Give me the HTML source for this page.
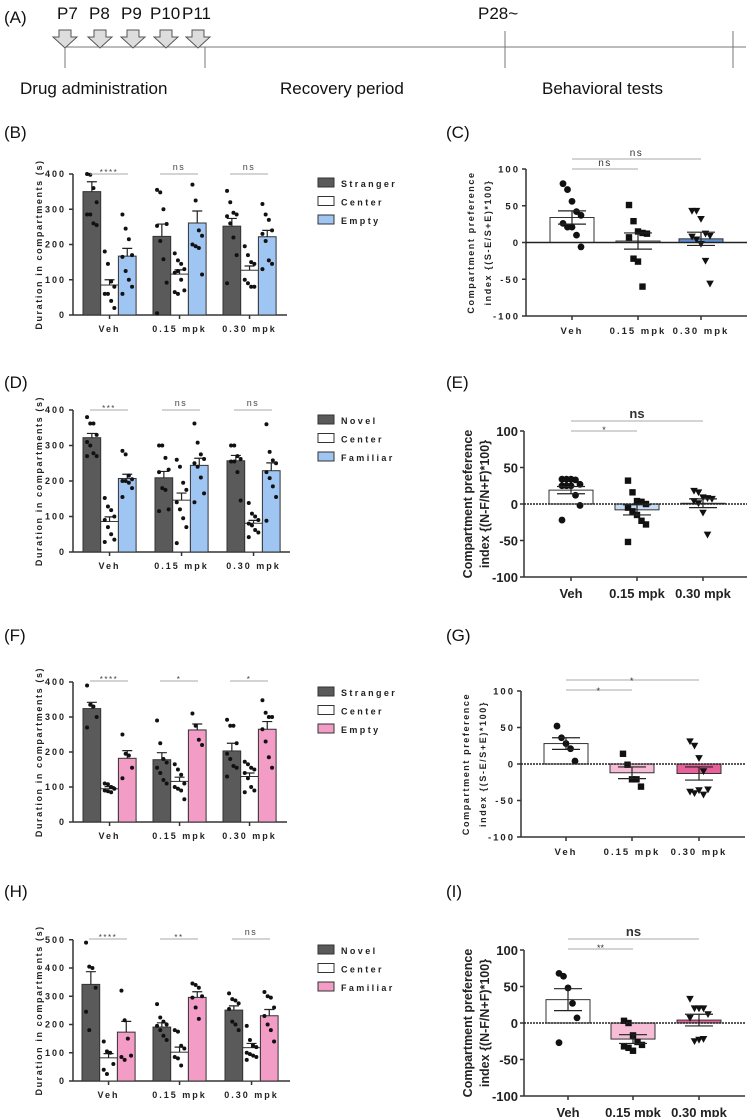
<!DOCTYPE html>
<html><head><meta charset="utf-8"><style>
body{margin:0;background:#fff}
svg{display:block}
text{font-family:"Liberation Sans",sans-serif}
</style></head><body>
<svg id="fig" width="750" height="1117" viewBox="0 0 750 1117" xmlns="http://www.w3.org/2000/svg">
<g font-size="17" fill="#111">
<text x="4" y="23">(A)</text>
<text x="57" y="19">P7</text>
<text x="89" y="19">P8</text>
<text x="121" y="19">P9</text>
<text x="150" y="19">P10</text>
<text x="182" y="19">P11</text>
<text x="478" y="19">P28~</text>
<line x1="65" y1="47" x2="746" y2="47" stroke="#777" stroke-width="1"/>
<line x1="65" y1="47" x2="65" y2="68" stroke="#777"/>
<line x1="205" y1="47" x2="205" y2="68" stroke="#777"/>
<line x1="505" y1="31" x2="505" y2="68" stroke="#777"/>
<line x1="733" y1="31" x2="733" y2="68" stroke="#777"/>
<g id="arrows"></g>
<text x="20" y="94">Drug administration</text>
<text x="280" y="94">Recovery period</text>
<text x="542" y="94">Behavioral tests</text>
</g>
<g font-size="17" fill="#111">
<text x="4" y="138">(B)</text>
<text x="446" y="138">(C)</text>
<text x="4" y="388">(D)</text>
<text x="446" y="388">(E)</text>
<text x="4" y="641">(F)</text>
<text x="446" y="641">(G)</text>
<text x="4" y="897">(H)</text>
<text x="446" y="897">(I)</text>
</g>
</svg>
<script>
// ----- data -----
const groups = ["Veh", "0.15 mpk", "0.30 mpk"];
const bMeans = [[350,85,167],[223,116,261],[252,127,222]];
const bSems = [[28,15,22],[35,12,34],[22,12,18]];
const bPoints = [[[400,398,360,320,285,285,260,255],[180,145,95,80,60,60,40,20],[285,245,215,170,165,125,100,80,60]],
 [[355,348,300,258,253,210,158,92,5],[175,155,145,130,120,125,100,70,65,60],[370,325,240,225,200,195,190,115]],
 [[352,320,290,285,280,260,220,170,90],[195,170,150,145,100,90,80,80],[315,285,270,240,230,210,155,145,130]]];
const bSig = ["****","ns","ns"];
const bLegend = ["Stranger","Center","Empty"];

const dMeans = [[322,86,207],[209,146,244],[257,81,229]];
const dSems = [[12,13,12],[18,20,20],[15,8,22]];
const dPoints = [[[380,362,362,330,310,300,278,270,270],[152,128,118,100,90,70,50,35,28],[285,275,215,205,200,200,195,180,155]],
 [[300,300,265,232,225,180,175,120,115],[260,240,195,175,140,120,95,70,25],[362,308,275,262,250,240,210,165,140]],
 [[300,300,270,262,255,255,225,145],[138,108,100,90,80,75,62,55,42],[360,282,258,250,225,208,185,155,88]]];
const dSig = ["***","ns","ns"];
const dLegend = ["Novel","Center","Familiar"];

const fMeans = [[324,95,182],[178,116,263],[203,130,265]];
const fSems = [[18,6,22],[20,12,17],[22,10,22]];
const fPoints = [[[390,335,330,300,270],[110,108,100,95,90,88,85],[250,195,190,155,125]],
 [[290,225,180,170,155,140,120,110],[165,150,135,110,100,95,90,65],[310,275,235,220]],
 [[292,275,275,225,195,180,160,155,130],[172,165,155,150,140,125,100,90,85],[348,312,300,300,265,230,185,155]]];
const fSig = ["****","*","*"];

const hMeans = [[342,82,173],[191,102,296],[251,118,231]];
const hSems = [[45,15,38],[15,18,20],[15,15,22]];
const hPoints = [[[490,405,400,330,245,180],[140,105,100,60,40,25],[320,215,150,90,85,75]],
 [[272,225,210,200,195,180,160,145],[180,175,125,115,85,80,55],[345,340,330,300,295,260,220]],
 [[310,290,285,275,255,210,200,180],[195,145,125,120,100,95,90,85,75],[315,300,295,260,230,200,180,140]]];
const hSig = ["****","**","ns"];

const cMeans = [34,2,5];
const cSems = [9,11,9];
const cPoints = [[80,72,56,42,37,26,21,21,10,-6],[51,29,15,13,12,7,-22,-26,-60],[43,43,32,12,9,8,4,-2,-25,-56]];
const cSig = ["ns","ns"];
const eMeans = [19,-8,1];
const eSems = [5,7,6];
const ePoints = [[34,34,34,33,27,25,25,25,12,-2,-22],[32,16,4,3,0,-5,-10,-15,-23,-28,-52],[18,16,9,8,7,4,1,-12,-42]];
const eSig = ["*","ns"];
const gMeans = [28,-12,-13];
const gSems = [8,8,9];
const gPoints = [[52,36,28,21,4],[14,-1,-21,-21,-31],[31,25,8,-10,-35,-38,-40,-36,-42]];
const gSig = ["*","*"];
const iMeans = [32,-22,4];
const iSems = [15,6,8];
const iPoints = [[68,64,48,27,7,-27],[3,0,-17,-26,-30,-32,-34,-38],[33,20,20,20,12,7,-25,-23,-22]];
const iSig = ["**","ns"];

const NS = "http://www.w3.org/2000/svg";
const svg = document.getElementById('fig');
function mk(tag, attrs, parent){
  const e = document.createElementNS(NS, tag);
  for (const k in attrs) e.setAttribute(k, attrs[k]);
  (parent||svg).appendChild(e);
  return e;
}

const arrowXs = [65,100,133,166,198];
const ag = document.getElementById('arrows');
arrowXs.forEach(x=>{
  const p = mk('polygon',{points:`${x-6},30 ${x+6},30 ${x+6},37 ${x+12},37 ${x},48 ${x-12},37 ${x-6},37`,fill:'#ddd',stroke:'#555','stroke-width':1},ag);
  
  
});

function jit(i){ return ((i%4)-1.5)*3.2; }

function leftPanel(o){
  const g = mk('g',{});
  
  
  const y = v => o.zeroY - v*o.per;
  const ax = mk('line',{x1:o.axisX,y1:y(o.ymax),x2:o.axisX,y2:o.zeroY,stroke:'#333','stroke-width':1.5},g);
   
  const xa = mk('line',{x1:o.axisX,y1:o.zeroY,x2:o.axisEnd,y2:o.zeroY,stroke:'#333','stroke-width':1.5},g);
   
  for(let v=0; v<=o.ymax; v+=100){
    const t = mk('line',{x1:o.axisX-4,y1:y(v),x2:o.axisX,y2:y(v),stroke:'#333','stroke-width':1.5},g);
     
    const tl = mk('text',{x:o.axisX-7,y:y(v)+3,'text-anchor':'end','font-size':9,'font-weight':'bold','letter-spacing':2,fill:'#222'},g);
    tl.textContent = v;
     
  }
  const yl = mk('text',{x:0,y:0,transform:`translate(${o.axisX-31},${(y(o.ymax)+o.zeroY)/2}) rotate(-90)`,'text-anchor':'middle','font-size':9,'font-weight':'bold','letter-spacing':1.6,fill:'#222'},g);
  yl.textContent = 'Duration in compartments (s)';
   
  o.means.forEach((grp,gi)=>{
    const gx = o.starts[gi];
    grp.forEach((m,bi)=>{
      const x0 = gx + bi*o.bw;
      const r = mk('rect',{x:x0,y:y(m),width:o.bw,height:o.zeroY-y(m),fill:o.colors[bi],stroke:'#333','stroke-width':1},g);
      
      
      const cx = x0+o.bw/2, s=o.sems[gi][bi];
      const e = mk('path',{d:`M${cx},${y(m)} V${y(m+s)} M${cx-5},${y(m+s)} H${cx+5}`,stroke:'#222','stroke-width':1.2,fill:'none'},g);
       
      o.points[gi][bi].forEach((p,pi)=>{
        const c = mk('circle',{cx:cx+jit(pi),cy:y(p),r:2,fill:'#111'},g);
         
      });
    });
    const gc = gx + 1.5*o.bw;
    const tk = mk('line',{x1:gc,y1:o.zeroY,x2:gc,y2:o.zeroY+4,stroke:'#333','stroke-width':1.5},g);
     
    const xl = mk('text',{x:gc,y:o.zeroY+17,'text-anchor':'middle','font-size':9,'font-weight':'bold','letter-spacing':2,fill:'#222'},g);
    xl.textContent = groups[gi];
     
    const sl = mk('line',{x1:gx+7,y1:o.sigY,x2:gx+45,y2:o.sigY,stroke:'#aaa','stroke-width':1},g);
     
    const st = mk('text',{x:gx+26,y:o.sig[gi]==='ns'?o.sigY-4:o.sigY+1,'text-anchor':'middle','font-size':o.sig[gi]==='ns'?9:8,'letter-spacing':1.5,fill:'#444'},g);
    st.textContent = o.sig[gi];
     
  });
  o.legend.forEach((l,li)=>{
    const ly = o.legY + li*18.5;
    const lr = mk('rect',{x:318,y:ly-5,width:16,height:9,fill:o.colors[li],stroke:'#333','stroke-width':1},g);
     
    const lt = mk('text',{x:341,y:ly+4,'font-size':9,'font-weight':'bold','letter-spacing':2.4,fill:'#222'},g);
    lt.textContent = l;
     
  });
}

function marker(g, shape, x, y){
  let e;
  if(shape===0) e = mk('circle',{cx:x,cy:y,r:3.4,fill:'#111'},g);
  else if(shape===1) e = mk('rect',{x:x-3.2,y:y-3.2,width:6.4,height:6.4,fill:'#111'},g);
  else e = mk('polygon',{points:`${x-3.8},${y-3} ${x+3.8},${y-3} ${x},${y+3.8}`,fill:'#111'},g);
  
  
}

function rightPanel(o){
  const g = mk('g',{});
  
  
  const y = v => o.zeroY - v*o.per;
  const ax = mk('line',{x1:o.axisX,y1:y(100),x2:o.axisX,y2:y(-100),stroke:'#333','stroke-width':1.5},g);
   
  const bx = mk('line',{x1:o.axisX,y1:y(-100),x2:o.axisEnd,y2:y(-100),stroke:'#333','stroke-width':1.5},g);
   
  for(let v=-100; v<=100; v+=50){
    const t = mk('line',{x1:o.axisX-4,y1:y(v),x2:o.axisX,y2:y(v),stroke:'#333','stroke-width':1.5},g);
     
    const tl = mk('text',{x:o.axisX-6,y:y(v)+(o.big?5:3.5),'text-anchor':'end','font-size':o.big?13:9.5,'font-weight':'bold','letter-spacing':o.big?0:2,fill:'#222'},g);
    tl.textContent = v;
     
  }
  const lines = ['Compartment preference', o.idx];
  lines.forEach((s,k)=>{
    const yl = mk('text',{x:0,y:0,transform:`translate(${o.axisX-52+k*17},${o.zeroY}) rotate(-90)`,'text-anchor':'middle','font-size':o.big?12.5:9,'font-weight':'bold','letter-spacing':o.big?0:1.6,fill:'#222'},g);
    yl.textContent = s;
     
  });
  o.means.forEach((m,i)=>{
    const cx = o.centers[i];
    const r = mk('rect',{x:cx-o.bw/2,y:Math.min(y(m),o.zeroY),width:o.bw,height:Math.abs(y(m)-o.zeroY),fill:o.colors[i],stroke:'#333','stroke-width':1},g);
    
    
    o.points[i].forEach((p,pi)=>marker(g,i,cx+((pi%5)-2)*4.5,y(p)));
    const s=o.sems[i];
    const e = mk('path',{d:`M${cx},${y(m-s)} V${y(m+s)} M${cx-14},${y(m+s)} H${cx+14} M${cx-14},${y(m-s)} H${cx+14}`,stroke:'#222','stroke-width':1.2,fill:'none'},g);
     
    const tk = mk('line',{x1:cx,y1:y(-100),x2:cx,y2:y(-100)+4,stroke:'#333','stroke-width':1.5},g);
     
    const xl = mk('text',{x:cx,y:y(-100)+(o.big?21:18),'text-anchor':'middle','font-size':o.big?13:9.5,'font-weight':'bold','letter-spacing':o.big?0:2,fill:'#222'},g);
    xl.textContent = groups[i];
     
  });
  const zl = mk('line',{x1:o.axisX,y1:o.zeroY,x2:o.axisEnd,y2:o.zeroY,stroke:'#222','stroke-width':1.5,'stroke-dasharray':o.dash?'2,1':'none'},g);
   
  o.sig.forEach((s,k)=>{
    const sy = o.sigY - k*10;
    const sl = mk('line',{x1:o.centers[0],y1:sy,x2:o.centers[k+1],y2:sy,stroke:'#aaa','stroke-width':1},g);
     
    const big = o.big && s==='ns';
    const st = mk('text',{x:(o.centers[0]+o.centers[k+1])/2,y:s==='ns'?sy-3:sy+(o.big?2:4),'text-anchor':'middle','font-size':big?13:(s==='ns'?10:9),'font-weight':big?'bold':'normal','letter-spacing':o.big?0:1.5,fill:'#333'},g);
    st.textContent = s;
     
  });
}

const gray='#5a5a5a', blue='#9fc5f2', pink='#f39cc6', white='#fff';
leftPanel({name:'chart-b',zeroY:315,per:0.3525,ymax:400,axisX:73,axisEnd:287,starts:[83,153,223],bw:17.7,colors:[gray,white,blue],means:bMeans,sems:bSems,points:bPoints,sig:bSig,sigY:174,legend:bLegend,legY:183});
leftPanel({name:'chart-d',zeroY:552,per:0.355,ymax:400,axisX:73,axisEnd:290,starts:[83,155,227],bw:17.7,colors:[gray,white,blue],means:dMeans,sems:dSems,points:dPoints,sig:dSig,sigY:410,legend:dLegend,legY:420});
leftPanel({name:'chart-f',zeroY:822,per:0.35,ymax:400,axisX:73,axisEnd:287,starts:[83,153,223],bw:17.7,colors:[gray,white,pink],means:fMeans,sems:fSems,points:fPoints,sig:fSig,sigY:681,legend:bLegend,legY:692});
leftPanel({name:'chart-h',zeroY:1081,per:0.2825,ymax:500,axisX:73,axisEnd:290,starts:[82,153,225],bw:17.7,colors:[gray,white,pink],means:hMeans,sems:hSems,points:hPoints,sig:hSig,sigY:939,legend:dLegend,legY:950});

rightPanel({name:'chart-c',zeroY:242.5,per:0.735,axisX:526,axisEnd:747,centers:[572,638,701],bw:44,colors:[white,white,'#5b8fd6'],means:cMeans,sems:cSems,points:cPoints,sig:cSig,sigY:169,idx:'index {(S-E/S+E)*100}',big:false,dash:false});
rightPanel({name:'chart-e',zeroY:504,per:0.73,axisX:524,axisEnd:747,centers:[571,637,703],bw:44,colors:[white,'#c6dcf4',white],means:eMeans,sems:eSems,points:ePoints,sig:eSig,sigY:431,idx:'index {(N-F/N+F)*100}',big:true,dash:true});
rightPanel({name:'chart-g',zeroY:764,per:0.73,axisX:521,axisEnd:745,centers:[566,632,699],bw:44,colors:[white,'#f7bcd6','#e8609a'],means:gMeans,sems:gSems,points:gPoints,sig:gSig,sigY:690,idx:'index {(S-E/S+E)*100}',big:false,dash:true});
rightPanel({name:'chart-i',zeroY:1023,per:0.73,axisX:524,axisEnd:745,centers:[568,633,699],bw:44,colors:[white,'#f7bcd6','#e8609a'],means:iMeans,sems:iSems,points:iPoints,sig:iSig,sigY:949,idx:'index {(N-F/N+F)*100}',big:true,dash:true});
</script>
</body></html>
